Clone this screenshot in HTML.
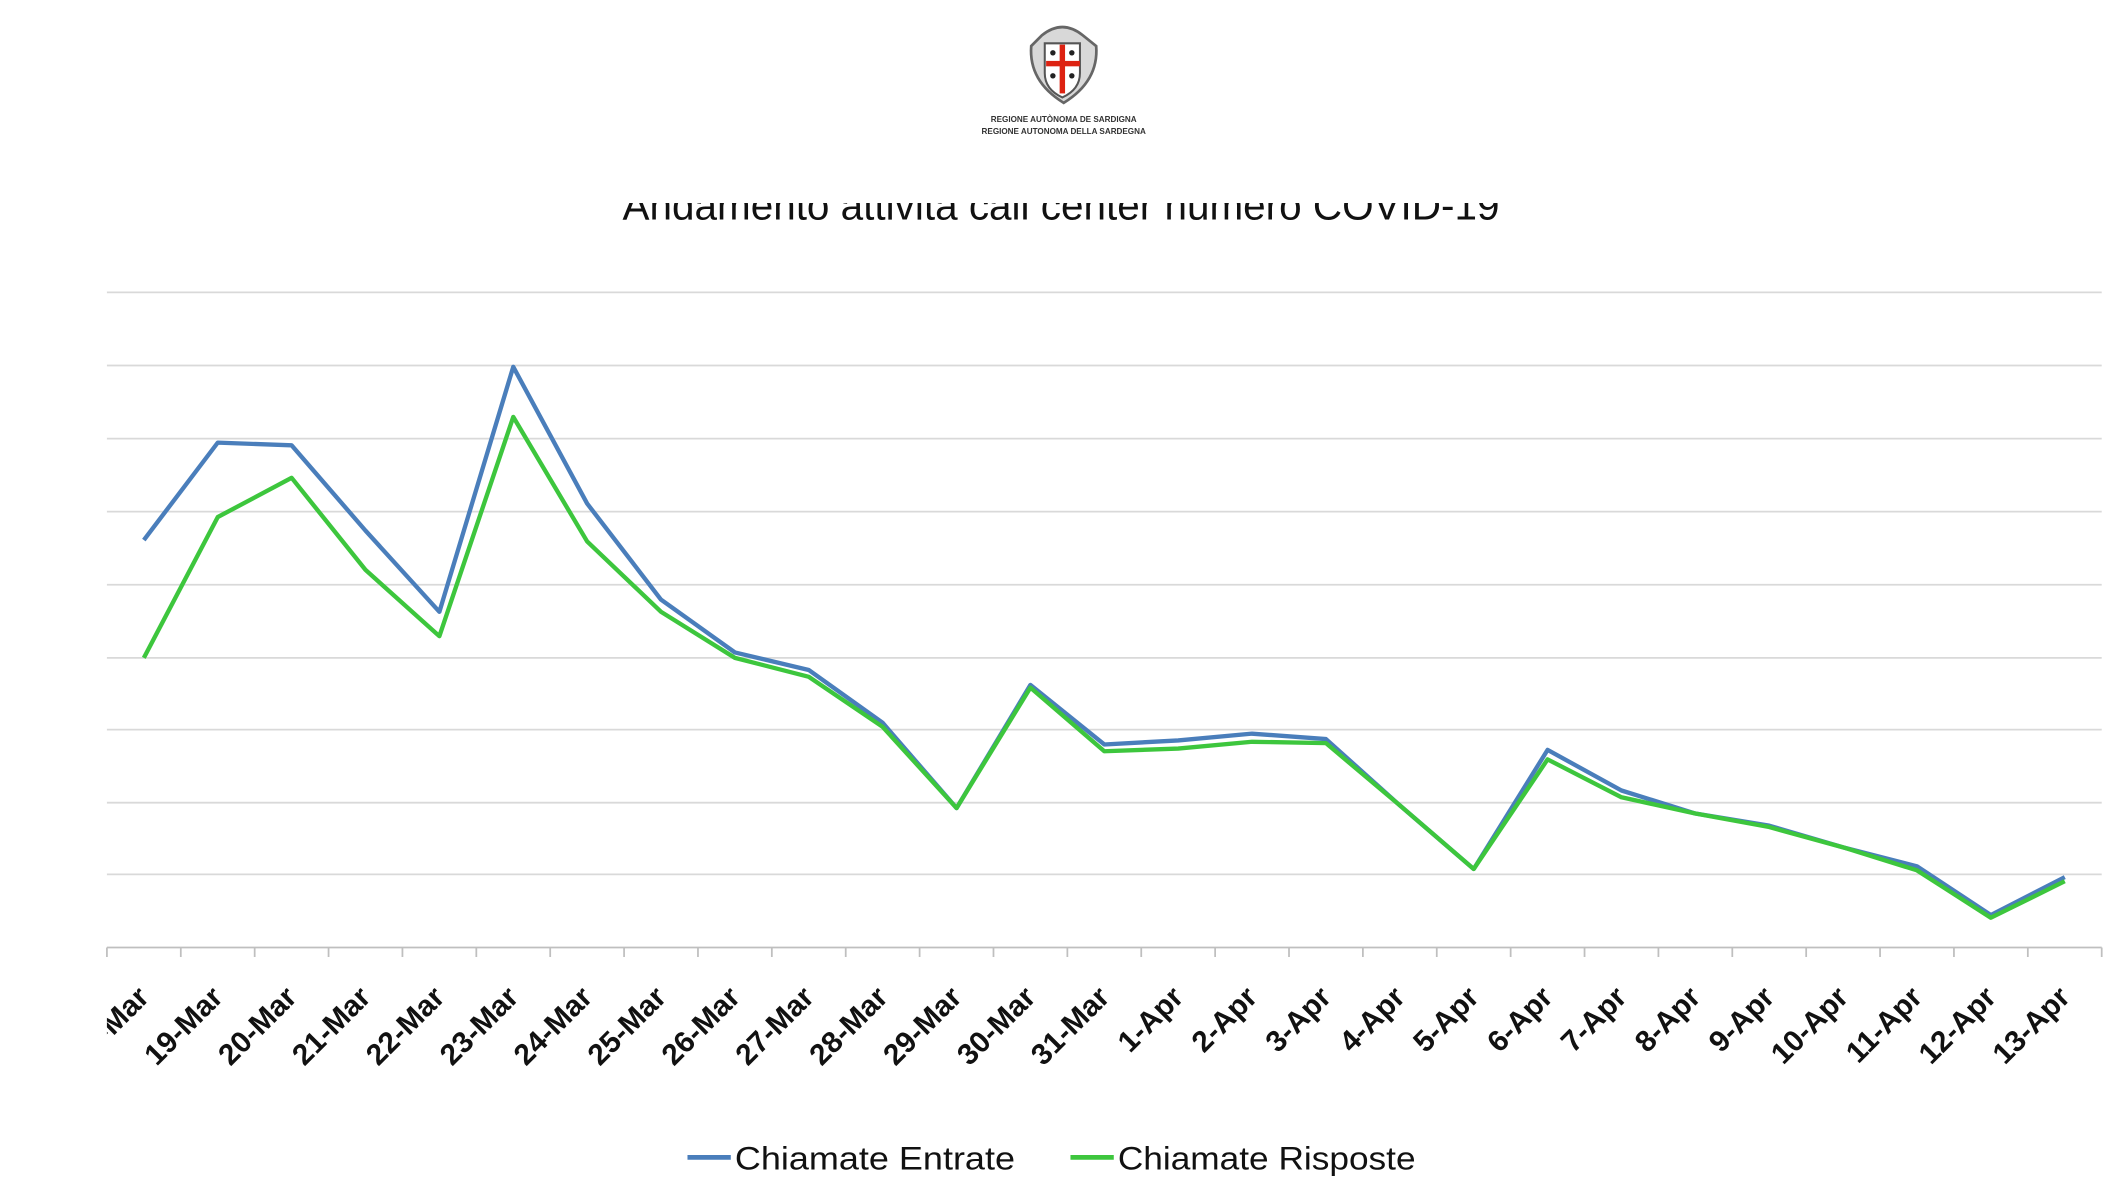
<!DOCTYPE html>
<html><head><meta charset="utf-8"><style>html,body{margin:0;padding:0;background:#fff}svg{display:block}</style></head><body>
<svg width="2122" height="1202" viewBox="0 0 1568 888" preserveAspectRatio="none" xmlns="http://www.w3.org/2000/svg">
<defs>
<clipPath id="tc"><rect x="0" y="150" width="1568" height="20"/></clipPath>
<clipPath id="lc"><rect x="79" y="700" width="1500" height="120"/></clipPath>
</defs>
<rect width="1568" height="888" fill="#fff"/>
<g>
<path d="M770 26 Q785 14 800 26 L810 34 Q812 60 786 76 Q760 60 762 34 Z" fill="#d8d8d8" stroke="#666" stroke-width="2"/>
<path d="M772 32 L798 32 L798 54 Q798 66 785 72 Q772 66 772 54 Z" fill="#fff" stroke="#555" stroke-width="1.5"/>
<rect x="783" y="33" width="4" height="36" fill="#d21"/>
<rect x="773" y="45" width="25" height="4" fill="#d21"/>
<circle cx="778" cy="39" r="2" fill="#222"/><circle cx="792" cy="39" r="2" fill="#222"/>
<circle cx="778" cy="56" r="2" fill="#222"/><circle cx="792" cy="56" r="2" fill="#222"/>
<text x="786" y="90" font-family="Liberation Sans" font-weight="bold" font-size="6" text-anchor="middle" fill="#333">REGIONE AUTÒNOMA DE SARDIGNA</text>
<text x="786" y="99" font-family="Liberation Sans" font-weight="bold" font-size="6" text-anchor="middle" fill="#333">REGIONE AUTONOMA DELLA SARDEGNA</text>
</g>
<text clip-path="url(#tc)" x="784" y="162" font-family="Liberation Sans" font-size="30" text-anchor="middle" textLength="648" lengthAdjust="spacingAndGlyphs" fill="#111">Andamento attività call center numero COVID-19</text>
<g stroke="#d9d9d9" stroke-width="1.3">
<line x1="79" y1="216" x2="1553" y2="216"/><line x1="79" y1="270" x2="1553" y2="270"/>
<line x1="79" y1="324" x2="1553" y2="324"/><line x1="79" y1="378" x2="1553" y2="378"/>
<line x1="79" y1="432" x2="1553" y2="432"/><line x1="79" y1="486" x2="1553" y2="486"/>
<line x1="79" y1="539" x2="1553" y2="539"/><line x1="79" y1="593" x2="1553" y2="593"/>
<line x1="79" y1="646" x2="1553" y2="646"/>
</g>
<line x1="79" y1="700" x2="1553" y2="700" stroke="#bfbfbf" stroke-width="1.3"/>
<g id="ticks" stroke="#bfbfbf" stroke-width="1.3"></g>
<polyline id="blue" fill="none" stroke="#4a7ebb" stroke-width="3.2" stroke-linejoin="round"/>
<polyline id="green" fill="none" stroke="#3dc63d" stroke-width="3.2" stroke-linejoin="round"/>
<g id="labels" clip-path="url(#lc)" font-family="Liberation Sans" font-weight="bold" font-size="22" fill="#111"></g>
<line x1="508" y1="855" x2="540" y2="855" stroke="#4a7ebb" stroke-width="3.5"/>
<text x="543" y="864" font-family="Liberation Sans" font-size="24" textLength="207" lengthAdjust="spacingAndGlyphs" fill="#111">Chiamate Entrate</text>
<line x1="791" y1="855" x2="823" y2="855" stroke="#3dc63d" stroke-width="3.5"/>
<text x="826" y="864" font-family="Liberation Sans" font-size="24" textLength="220" lengthAdjust="spacingAndGlyphs" fill="#111">Chiamate Risposte</text>
</svg>
<script>
var ns="http://www.w3.org/2000/svg";
var b=[399,327,329,392,452,271,372,443,482,495,534,597,506,550,547,542,546,595,642,554,584,601,610,626,640,676,648];
var g=[486,382,353,421,470,308,400,452,486,500,537,597,508,555,553,548,549,595,642,561,589,601,611,626,643,678,651];
var names=["18-Mar","19-Mar","20-Mar","21-Mar","22-Mar","23-Mar","24-Mar","25-Mar","26-Mar","27-Mar","28-Mar","29-Mar","30-Mar","31-Mar","1-Apr","2-Apr","3-Apr","4-Apr","5-Apr","6-Apr","7-Apr","8-Apr","9-Apr","10-Apr","11-Apr","12-Apr","13-Apr"];
var w=(1553-79)/27,pb=[],pg=[];
var T=document.getElementById("ticks"),L=document.getElementById("labels");
for(var i=0;i<=27;i++){var x=79+i*w;var l=document.createElementNS(ns,"line");l.setAttribute("x1",x);l.setAttribute("x2",x);l.setAttribute("y1",700);l.setAttribute("y2",707);T.appendChild(l);}
for(var i=0;i<27;i++){var cx=79+(i+0.5)*w;pb.push(cx+","+b[i]);pg.push(cx+","+g[i]);
var t=document.createElementNS(ns,"text");t.setAttribute("text-anchor","end");t.setAttribute("transform","translate("+(cx+5)+",738) rotate(-45)");t.textContent=names[i];L.appendChild(t);}
document.getElementById("blue").setAttribute("points",pb.join(" "));
document.getElementById("green").setAttribute("points",pg.join(" "));
</script>
</body></html>
